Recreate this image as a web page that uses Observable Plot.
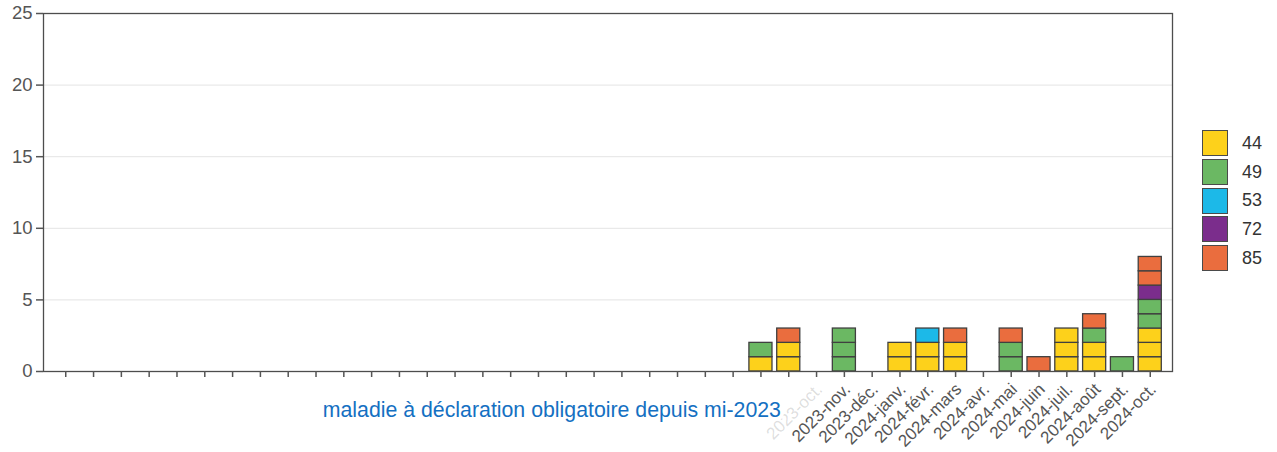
<!DOCTYPE html>
<html>
<head>
<meta charset="utf-8">
<script src="https://cdn.jsdelivr.net/npm/d3@7"></script>
<script src="https://cdn.jsdelivr.net/npm/@observablehq/plot@0.6"></script>
<style>
  html, body { margin: 0; padding: 0; background: #fff; }
  #wrap { position: relative; width: 1277px; height: 452px; font-family: "Liberation Sans", Arial, sans-serif; }
  #legend { position: absolute; left: 1202px; top: 129px; }
  .lg-row { display: flex; align-items: center; height: 28.7px; }
  .lg-sw { width: 24px; height: 24px; border: 1.3px solid #4a4a4a; box-sizing: content-box; }
  .lg-lab { margin-left: 14px; font-size: 18px; color: #333; }
</style>
</head>
<body>
<div id="wrap"><div id="legend"></div></div>
<script>
const months = ["2021-juil.","2021-août","2021-sept.","2021-oct.","2021-nov.","2021-déc.",
  "2022-janv.","2022-févr.","2022-mars","2022-avr.","2022-mai","2022-juin","2022-juil.","2022-août","2022-sept.","2022-oct.","2022-nov.","2022-déc.",
  "2023-janv.","2023-févr.","2023-mars","2023-avr.","2023-mai","2023-juin","2023-juil.","2023-août","2023-sept.","2023-oct.","2023-nov.","2023-déc.",
  "2024-janv.","2024-févr.","2024-mars","2024-avr.","2024-mai","2024-juin","2024-juil.","2024-août","2024-sept.","2024-oct."];

const depts = ["44", "49", "53", "72", "85"];
const deptColors = ["#FDD11B", "#6BB863", "#1CB9E8", "#7B2D8C", "#EA6D3E"];

// monthly case counts per department (same order as months)
const d44 = [0,0,0,0,0,0, 0,0,0,0,0,0,0,0,0,0,0,0, 0,0,0,0,0,0,0,1,2,0,0,0, 2,2,2,0,0,0,3,2,0,3];
const d49 = [0,0,0,0,0,0, 0,0,0,0,0,0,0,0,0,0,0,0, 0,0,0,0,0,0,0,1,0,0,3,0, 0,0,0,0,2,0,0,1,1,2];
const d53 = [0,0,0,0,0,0, 0,0,0,0,0,0,0,0,0,0,0,0, 0,0,0,0,0,0,0,0,0,0,0,0, 0,1,0,0,0,0,0,0,0,0];
const d72 = [0,0,0,0,0,0, 0,0,0,0,0,0,0,0,0,0,0,0, 0,0,0,0,0,0,0,0,0,0,0,0, 0,0,0,0,0,0,0,0,0,1];
const d85 = [0,0,0,0,0,0, 0,0,0,0,0,0,0,0,0,0,0,0, 0,0,0,0,0,0,0,0,1,0,0,0, 0,0,1,0,1,1,0,1,0,2];

const yTicks = [0, 5, 10, 15, 20, 25];
const yGrid = [5, 10, 15, 20];
const labeledMonths = ["2023-nov.","2023-déc.","2024-janv.","2024-févr.","2024-mars","2024-avr.","2024-mai","2024-juin","2024-juil.","2024-août","2024-sept.","2024-oct."];
const fadedMonths = ["2023-oct."];
const annotation = "maladie à déclaration obligatoire depuis mi-2023";
const annotationAt = "2023-août";

const series = [d44, d49, d53, d72, d85];
// one row per case, so each case is its own outlined cell
const units = [];
months.forEach((m, i) => {
  depts.forEach((d, j) => {
    for (let k = 0; k < series[j][i]; k++) units.push({month: m, dept: d});
  });
});

const chart = Plot.plot({
  width: 1277,
  height: 452,
  marginLeft: 43,
  marginRight: 105,
  marginTop: 13,
  marginBottom: 81,
  style: {fontFamily: "Liberation Sans, Arial, sans-serif", background: "transparent", color: "#4d4d4d", overflow: "visible"},
  x: {domain: months, paddingInner: 0.17, paddingOuter: 0.385, label: null},
  y: {domain: [0, 25], label: null},
  color: {domain: depts, range: deptColors},
  marks: [
    Plot.gridY(yGrid, {stroke: "#e4e4e4", strokeOpacity: 1, strokeWidth: 1}),
    Plot.barY(units, Plot.stackY({x: "month", y: 1, fill: "dept", stroke: "#404040", strokeWidth: 1.3})),
    Plot.frame({stroke: "#4d4d4d", strokeWidth: 1.3}),
    Plot.axisY({ticks: yTicks, tickSize: 7, tickPadding: 4, fontSize: 18.5, color: "#555", strokeWidth: 1.5, label: null}),
    Plot.axisX({tickSize: 6, strokeWidth: 1.5, color: "#555", label: null, tickFormat: () => ""}),
    Plot.axisX(labeledMonths, {tickRotate: -45, tickSize: 0, tickPadding: 10, dx: 3, dy: 5, fontSize: 17, color: "#555", label: null}),
    Plot.axisX(fadedMonths, {tickRotate: -45, tickSize: 0, tickPadding: 10, dx: 3, dy: 5, fontSize: 17, color: "#555", opacity: 0.2, label: null}),
    Plot.text([{label: annotation, at: annotationAt}], {x: "at", text: "label", frameAnchor: "bottom", lineAnchor: "middle",
      textAnchor: "end", dx: 20, dy: 39, fontSize: 21.3, fill: "#1470C2", stroke: "white", strokeWidth: 8})
  ]
});
document.getElementById("wrap").prepend(chart);

const legend = d3.select("#legend");
depts.forEach((d, i) => {
  const row = legend.append("div").attr("class", "lg-row");
  row.append("div").attr("class", "lg-sw").style("background", deptColors[i]);
  row.append("div").attr("class", "lg-lab").text(d);
});
</script>
</body>
</html>
